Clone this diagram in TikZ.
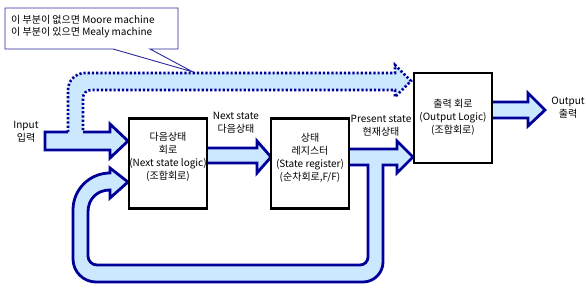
\documentclass[tikz,border=0pt]{standalone}
\usepackage{fontspec}
\setmainfont{Noto Sans CJK KR}
\definecolor{lblue}{HTML}{CCE8FF}
\definecolor{navy}{HTML}{000099}
\definecolor{callblue}{HTML}{2A2AA0}
\begin{document}
\begin{tikzpicture}[x=1pt,y=-1pt,
  blockfill/.style={fill=lblue},
  blockline/.style={draw=navy,line width=2.8pt,line join=miter},
  dotline/.style={draw=navy,line width=2.6pt,dash pattern=on 2.2pt off 2pt},
  box/.style={draw=black,line width=2.8pt,fill=white,minimum width=78pt,minimum height=90pt,inner sep=0pt},
  txt/.style={font=\fontsize{10}{13}\selectfont,align=center,inner sep=0pt},
  ctxt/.style={font=\fontsize{10}{12}\selectfont,align=left,inner sep=0pt}]
\useasboundingbox (0,0) rectangle (587,288);

% callout
\draw[callblue,line width=0.9pt,fill=white] (5,8) -- (178,8) -- (178,49) -- (150,49) -- (193,72) -- (113,49) -- (5,49) -- cycle;
\node[ctxt,anchor=north west] (call) at (11,15) {이 부분이 없으면 Moore machine\\이 부분이 있으면 Mealy machine};

% dotted Mealy path
\fill[blockfill] (68,133) -- (68,90) .. controls (68,80.6) and (75.6,73) .. (85,73) -- (395,73) -- (395,65) -- (411,81) -- (395,97) -- (395,90) -- (91,90) .. controls (86.6,90) and (83,93.6) .. (83,98) -- (83,133) -- cycle;
\draw[dotline] (68,132) -- (68,90) .. controls (68,80.6) and (75.6,73) .. (85,73) -- (395,73) -- (395,65) -- (411,81) -- (395,97) -- (395,90) -- (91,90) .. controls (86.6,90) and (83,93.6) .. (83,98) -- (83,132);

% input arrow
\fill[blockfill] (45,132) -- (110,132) -- (110,124) -- (128,141) -- (110,158) -- (110,150) -- (45,150) -- cycle;
\draw[blockline] (68,132) -- (45,132) -- (45,150) -- (110,150) -- (110,158) -- (128,141) -- (110,124) -- (110,132) -- (83,132);

% next state arrow
\filldraw[blockfill,blockline] (206,148) -- (257,148) -- (257,141) -- (271,157) -- (257,173) -- (257,163) -- (206,163) -- cycle;

% present state arrow + feedback
\filldraw[blockfill,blockline] (347,149) -- (397,149) -- (397,141) -- (413,157) -- (397,173) -- (397,165) -- (383,165) -- (383,262) .. controls (383,273) and (374,282) .. (363,282) -- (96,282) .. controls (83.3,282) and (73,271.7) .. (73,259) -- (73,210) .. controls (73,189) and (90,173) .. (110,173) -- (110,168) -- (128,182) -- (110,198) -- (110,190) .. controls (97,190) and (88,199) .. (88,212) -- (88,256) .. controls (88,261) and (92,265) .. (97,265) -- (360,265) .. controls (364.4,265) and (368,261.4) .. (368,257) -- (368,165) -- (347,165) -- cycle;

% output arrow
\filldraw[blockfill,blockline] (491,102) -- (528,102) -- (528,93) -- (545,110) -- (528,126) -- (528,118) -- (491,118) -- cycle;

% boxes
\node[box] (nsl) at (168,163.5) {};
\node[box] (sreg) at (310,163.5) {};
\node[box] (ol) at (453,118) {};

\node[txt] (nslt) at (168,157) {다음상태\\회로\\(Next state logic)\\(조합회로)};
\node[txt] (sregt) at (310,157.5) {상태\\레지스터\\(State register)\\(순차회로,F/F)};
\node[txt] (olt) at (453,117.5) {출력 회로\\(Output Logic)\\(조합회로)};

% labels
\node[txt] (in) at (26,132) {Input\\입력};
\node[txt] (ns) at (236,123) {Next state\\다음상태};
\node[txt] (ps) at (381,126) {Present state\\현재상태};
\node[txt] (out) at (568,108) {Output\\출력};
\end{tikzpicture}
\end{document}
